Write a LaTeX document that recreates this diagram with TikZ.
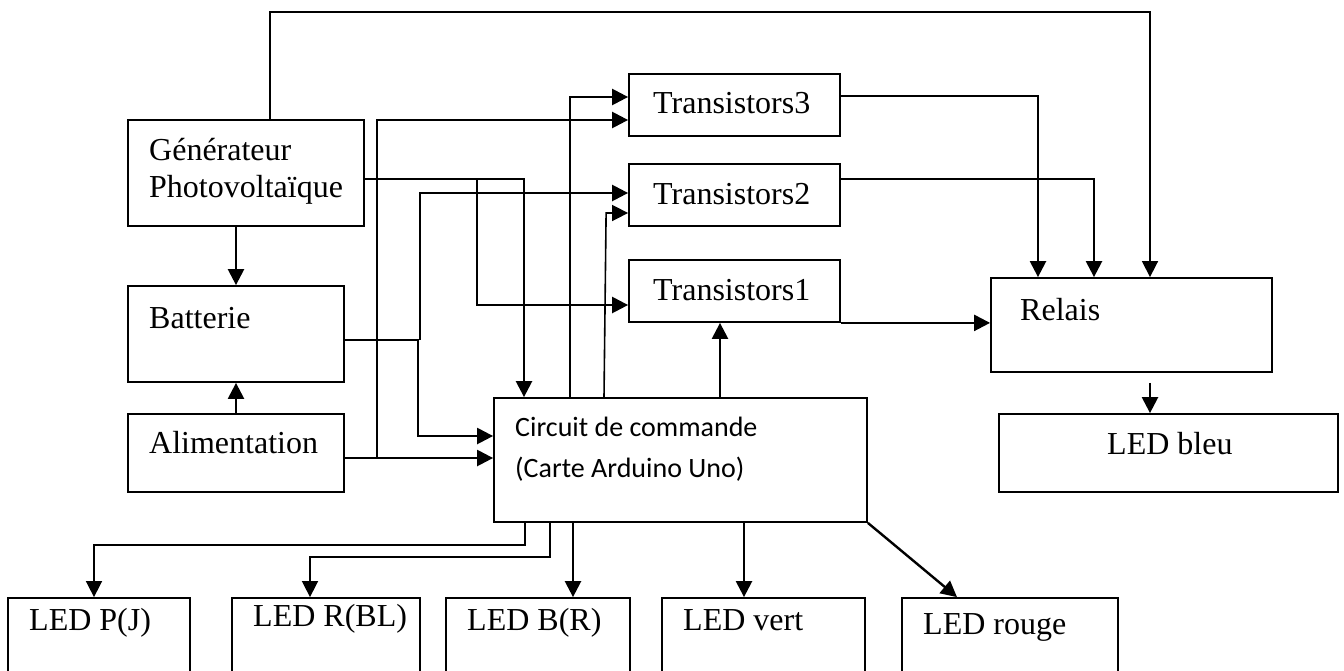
\documentclass[tikz,border=0pt]{standalone}
\usepackage{fontspec}
\setmainfont{Liberation Serif}
\newfontfamily\ardfont{Carlito}
\usetikzlibrary{arrows.meta,fit}

\begin{document}
\begin{tikzpicture}[x=1pt,y=-1pt,every node/.style={font=\fontsize{32}{38}\selectfont},blk/.style={draw,line width=1.8pt,inner sep=0pt},txt/.style={anchor=base west,inner sep=0pt},arr/.style={-{Triangle[length=16pt,width=16pt]},line width=2.4pt},thn/.style={line width=1.6pt}]
\clip (0,0) rectangle (1344,670);
% blocs
\node[blk,fit={(128,120) (364,226)}] (gen) {};
\node[blk,fit={(128,286) (344,382)}] (bat) {};
\node[blk,fit={(128,414) (344,492)}] (alim) {};
\node[blk,fit={(629,74) (840,136)}] (tr3) {};
\node[blk,fit={(629,164) (840,226)}] (tr2) {};
\node[blk,fit={(629,260) (840,322)}] (tr1) {};
\node[blk,fit={(991,278) (1272,372)}] (relais) {};
\node[blk,fit={(999,414) (1338,492)}] (bleu) {};
\node[blk,fit={(494,398) (867,522)}] (cmd) {};
\node[blk,fit={(8,598) (190,680)}] (ledp) {};
\node[blk,fit={(232,598) (420,680)}] (ledr) {};
\node[blk,fit={(446,598) (630,680)}] (ledb) {};
\node[blk,fit={(662,598) (865,680)}] (ledv) {};
\node[blk,fit={(902,598) (1118,680)}] (ledro) {};
% textes
\node[txt] (genA) at (149,160) {Générateur};
\node[txt] (genB) at (149,197) {Photovoltaïque};
\node[txt] (batT) at (149,328) {Batterie};
\node[txt] (alimT) at (149,453) {Alimentation};
\node[txt] (tr3T) at (653,113) {Transistors3};
\node[txt] (tr2T) at (653,204) {Transistors2};
\node[txt] (tr1T) at (653,300) {Transistors1};
\node[txt] (relT) at (1020,320) {Relais};
\node[txt] (bleuT) at (1107,454) {LED bleu};
\node[txt,font=\ardfont\fontsize{28}{33}\selectfont] (cmdA) at (515,436) {Circuit de commande};
\node[txt,font=\ardfont\fontsize{28}{33}\selectfont] (cmdB) at (515,477) {(Carte Arduino Uno)};
\node[txt] (ledpT) at (29,630) {LED P(J)};
\node[txt] (ledrT) at (253,626) {LED R(BL)};
\node[txt] (ledbT) at (467,630) {LED B(R)};
\node[txt] (ledvT) at (683,630) {LED vert};
\node[txt] (ledroT) at (923,634) {LED rouge};
% liaisons
\coordinate (pvtop) at (1150,12);
\draw[arr] (gen.south -| bat.north) -- (bat.north);
\draw[arr] (alim.north) -- (bat.south);
\draw[arr,thn] ([xshift=24pt]gen.north) |- (pvtop) -- (pvtop |- relais.north);
\draw[arr] ([yshift=9pt]tr3.east) -| ([xshift=-93.5pt]relais.north);
\draw[arr] ([yshift=16pt]tr2.east) -| ([xshift=-37.5pt]relais.north);
\draw[arr] (tr1.south east) -- (tr1.south east -| relais.west);
\draw[arr] ([xshift=18.5pt,yshift=-10pt]relais.south) -- ([xshift=-18.5pt]bleu.north);
\draw[arr] ([yshift=-5pt]alim.east) -- ([yshift=-5pt]alim.east -| cmd.west);
\draw[arr] ([xshift=32pt,yshift=-5pt]alim.east) |- ([yshift=-15pt]tr3.west);
\draw[arr] ([yshift=-6pt]bat.east) -| ([xshift=-75pt,yshift=24pt]cmd.west) -- ([yshift=24pt]cmd.west);
\draw[arr] ([xshift=75pt,yshift=-6pt]bat.east) |- ([yshift=2pt]tr2.west);
\draw[arr] ([yshift=-6pt]gen.east) -| ([xshift=-156.5pt]cmd.north);
\draw[arr] ([xshift=112pt,yshift=-6pt]gen.east) |- ([yshift=-14pt]tr1.west);
\draw[arr] ([xshift=-110.5pt]cmd.north) |- ([yshift=8pt]tr3.west);
\draw[arr,thn] ([xshift=-76.5pt]cmd.north) -- ([xshift=-22pt,yshift=-18pt]tr2.west) -- ([yshift=-18pt]tr2.west);
\draw[arr] ([xshift=39.5pt]cmd.north) -- ([xshift=-14.5pt]tr1.south);
\draw[arr,thn] ([xshift=-155.5pt]cmd.south) -- ++(0,22) -| ([xshift=-5pt]ledp.north);
\draw[arr,thn] ([xshift=-130.5pt]cmd.south) -- ++(0,34) -| ([xshift=-16pt]ledr.north);
\draw[arr] ([xshift=-107.5pt]cmd.south) -- ([xshift=-107.5pt]cmd.south |- ledb.north);
\draw[arr] ([xshift=63.5pt]cmd.south) -- ([xshift=63.5pt]cmd.south |- ledv.north);
\draw[arr] (cmd.south east) -- ([xshift=-53pt]ledro.north);
\end{tikzpicture}
\end{document}
